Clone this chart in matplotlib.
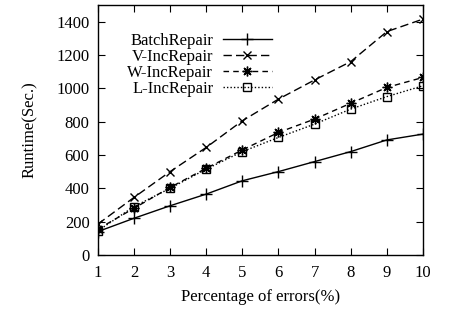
import matplotlib
matplotlib.use("Agg")
import matplotlib.pyplot as plt

plt.rcParams['font.family'] = ['Liberation Serif', 'DejaVu Serif']

errors = [1, 2, 3, 4, 5, 6, 7, 8, 9, 10]
batch = [140, 220, 295, 365, 445, 500, 560, 620, 690, 725]
v_inc = [185, 345, 500, 645, 805, 935, 1050, 1160, 1340, 1415]
w_inc = [155, 280, 405, 520, 630, 735, 815, 910, 1005, 1065]
l_inc = [145, 290, 400, 515, 620, 705, 785, 875, 950, 1015]

fig = plt.figure(figsize=(4.49, 3.09), dpi=100)
ax = fig.add_axes([0.218, 0.175, 0.724, 0.809])

ax.plot(errors, batch, color='black', lw=1, ls='-', marker='+', ms=8, mew=1,
        label='BatchRepair')
ax.plot(errors, v_inc, color='black', lw=1, ls=(0, (6, 3)), marker='x', ms=6, mew=1,
        label='V-IncRepair')
ax.plot(errors, w_inc, color='black', lw=1, ls=(0, (4, 3)), marker=(8, 2, 0), ms=7, mew=1,
        label='W-IncRepair')
ax.plot(errors, l_inc, color='black', lw=1, ls=(0, (1, 1.5)), marker='s', ms=6, mew=1,
        mfc='none', label='L-IncRepair')

ax.set_xlim(1, 10)
ax.set_ylim(0, 1500)
ax.set_xticks(errors)
ax.set_yticks(range(0, 1401, 200))
ax.tick_params(direction='in', top=True, right=True, labelsize=12, length=5, pad=6)
ax.tick_params(axis='x', pad=7)
for s in ax.spines.values():
    s.set_linewidth(1)

ax.set_xlabel('Percentage of errors(%)', fontsize=12, labelpad=6)
ax.set_ylabel('Runtime(Sec.)', fontsize=12, labelpad=13)

ax.legend(loc='upper left', bbox_to_anchor=(0.07, 0.915), frameon=False,
          markerfirst=False, fontsize=12, handlelength=2.9, labelspacing=0.0,
          handletextpad=0.6, borderaxespad=0)

fig.savefig('out.png', dpi=100)
